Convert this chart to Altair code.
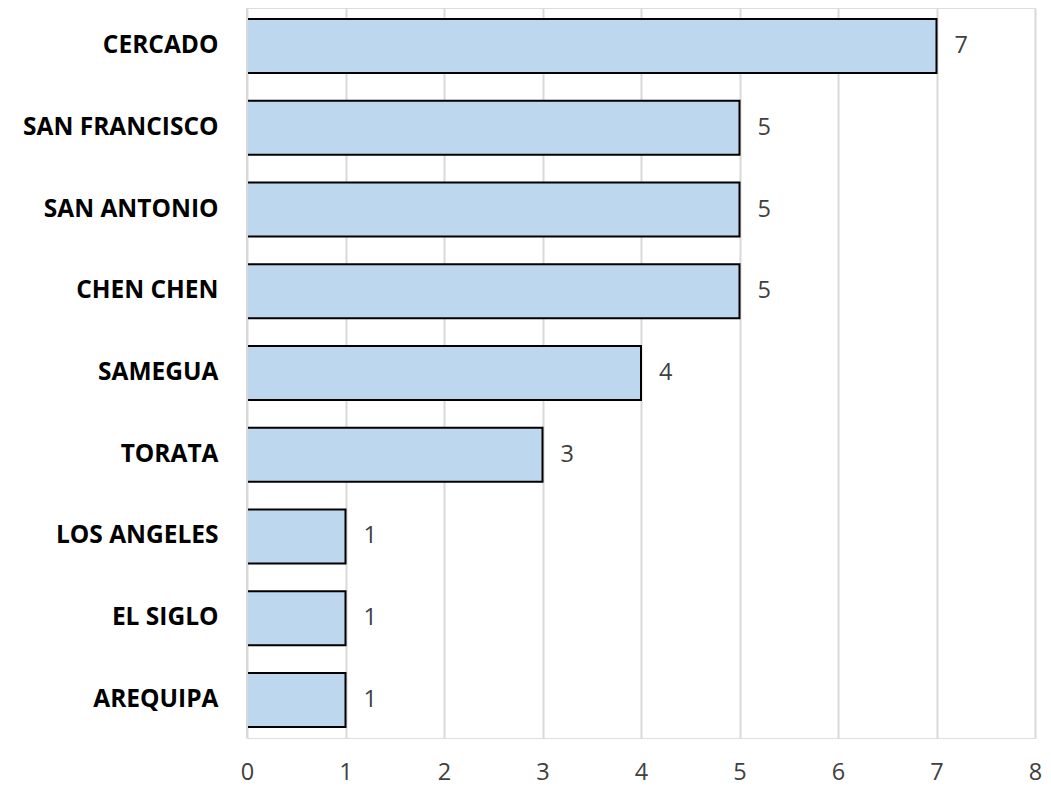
import altair as alt
import pandas as pd

categories = ["CERCADO", "SAN FRANCISCO", "SAN ANTONIO", "CHEN CHEN", "SAMEGUA",
              "TORATA", "LOS ANGELES", "EL SIGLO", "AREQUIPA"]
values = [7, 5, 5, 5, 4, 3, 1, 1, 1]

df = pd.DataFrame({"cat": categories, "val": values})

FONT = "Open Sans"

y_enc = alt.Y("cat:N", sort=categories, title=None,
              scale=alt.Scale(paddingInner=0.34, paddingOuter=0.135),
              axis=alt.Axis(domain=False, ticks=False, labelFontSize=24.5,
                            labelFontWeight="bold", labelColor="#000000",
                            labelFont=FONT, labelPadding=29, labelLimit=400,
                            grid=False))
x_enc = alt.X("val:Q", title=None,
              scale=alt.Scale(domain=[0, 8], nice=False),
              axis=alt.Axis(values=list(range(0, 9)), domain=False, ticks=False,
                            grid=True, gridColor="#d9d9d9", gridWidth=2,
                            labelFontSize=23.5, labelColor="#404040", labelFont=FONT,
                            labelFlush=False, labelPadding=22, format="d"))

bars = alt.Chart(df).mark_bar(fill="#bdd7ee", stroke="#000000", strokeWidth=2).encode(
    x=x_enc, y=y_enc)

text = alt.Chart(df).mark_text(align="left", baseline="middle", dx=18, fontSize=23.5,
                               font=FONT, color="#404040").encode(
    x="val:Q", y=alt.Y("cat:N", sort=categories), text="val:Q")

zero = alt.Chart(pd.DataFrame({"z": [0]})).mark_rule(color="#d9d9d9", strokeWidth=2).encode(
    x="z:Q")

chart = alt.layer(bars, text, zero).properties(
    width=788, height=730,
    autosize=alt.AutoSizeParams(type="none"),
    padding={"left": 239, "top": 0, "right": 8, "bottom": 48},
).configure_view(stroke="transparent").configure(background="#ffffff")

chart.save("out.html", embed_options={"renderer": "svg", "actions": False})
